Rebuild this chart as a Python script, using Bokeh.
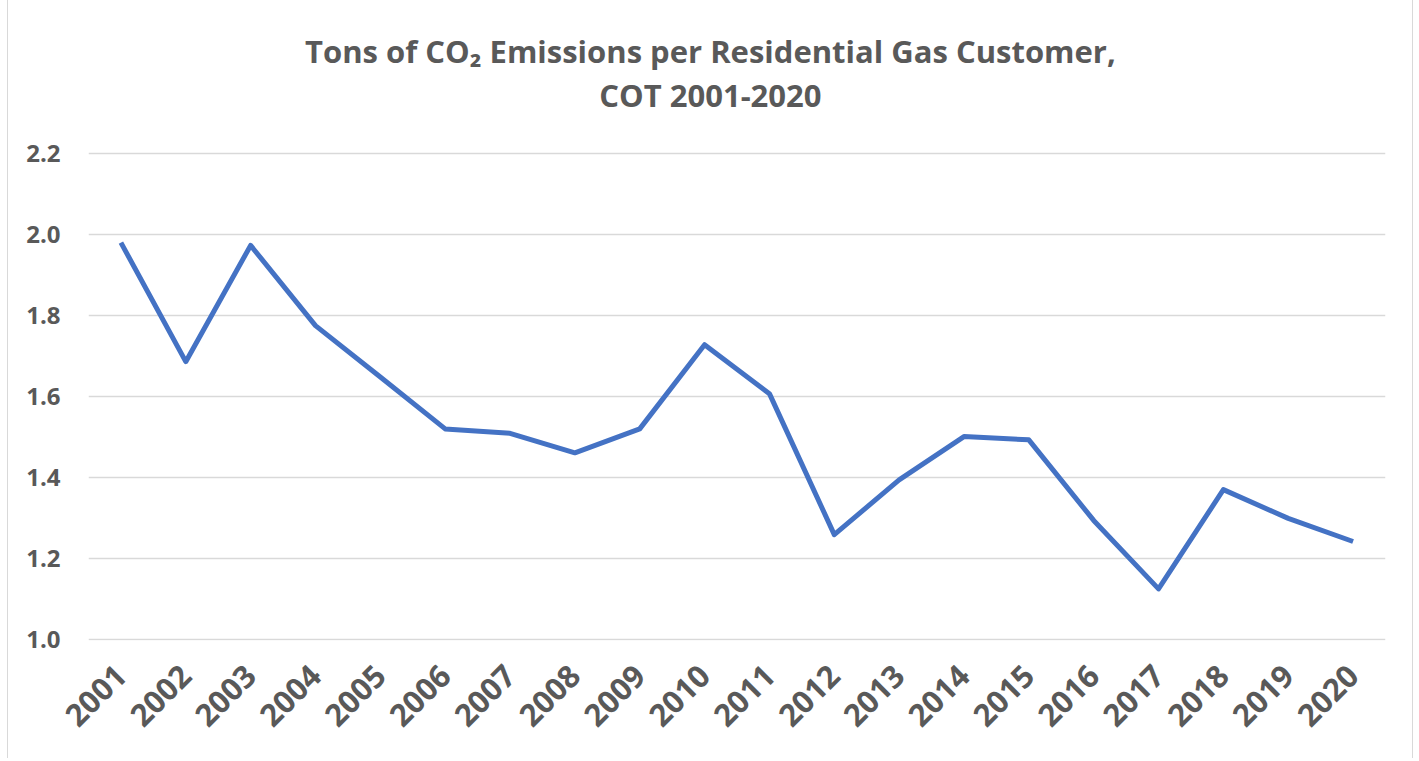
from bokeh.plotting import figure
from bokeh.models import Range1d, FactorRange, FixedTicker, Label, ColumnDataSource, NumeralTickFormatter
from bokeh.embed import file_html
from bokeh.resources import INLINE
import math

years = [str(y) for y in range(2001, 2021)]
tons_per_customer = [1.980, 1.686, 1.973, 1.775, 1.648, 1.520, 1.509, 1.461, 1.520, 1.728,
                     1.607, 1.259, 1.394, 1.501, 1.493, 1.294, 1.125, 1.370, 1.299, 1.242]
y_ticks = [1.0, 1.2, 1.4, 1.6, 1.8, 2.0, 2.2]
title_lines = ["Tons of CO\u2082 Emissions per Residential Gas Customer,", "COT 2001-2020"]

TEXT = "#595959"
FONT = "Open Sans"

# vertical scale: 405 px per unit, 1.0 line at canvas y=639, frame top at canvas 0
PX = 405.0
BASE_Y = 639
y_lo = 1.0 - 1.0 / PX
y_hi = 1.0 + BASE_Y / PX

p = figure(width=1406, height=758, output_backend="svg", toolbar_location=None,
           x_range=FactorRange(*years, range_padding=0), y_range=Range1d(y_lo, y_hi),
           min_border_left=80, min_border_right=29, min_border_top=0,
           min_border_bottom=758 - (BASE_Y + 1))
p.styles = {"margin-left": "7px", "border-left": "1px solid #d9d9d9",
            "border-right": "1px solid #d9d9d9"}
p.outline_line_color = None
p.background_fill_color = "white"
p.border_fill_color = "white"

src = ColumnDataSource(dict(year=years, val=tons_per_customer))
p.line("year", "val", source=src, line_color="#4472C4", line_width=5, line_join="round")

p.xgrid.grid_line_color = None
p.ygrid.grid_line_color = "#d9d9d9"
p.ygrid.grid_line_width = 1.5
p.ygrid.ticker = FixedTicker(ticks=y_ticks)

p.yaxis.ticker = FixedTicker(ticks=y_ticks)
p.yaxis.formatter = NumeralTickFormatter(format="0.0")
for ax in (p.xaxis[0], p.yaxis[0]):
    ax.axis_line_color = None
    ax.major_tick_line_color = None
    ax.minor_tick_line_color = None
    ax.major_label_text_color = TEXT
    ax.major_label_text_font = FONT
    ax.major_label_text_font_style = "bold"
p.yaxis.major_label_text_font_size = "24px"
p.yaxis.major_label_standoff = 22
p.xaxis.major_label_text_font_size = "31px"
p.xaxis.major_label_orientation = math.pi / 4
p.xaxis.major_label_standoff = 24

# title: two centered lines inside the top of the frame
for line_text, sy in zip(title_lines, [50, 94]):
    p.add_layout(Label(x=9.59, y=1.0 + (BASE_Y - sy) / PX, text=line_text,
                       text_align="center", text_baseline="middle",
                       text_font=FONT, text_font_style="bold", text_font_size="31px",
                       text_color=TEXT))

open("out.html", "w").write(file_html(p, INLINE))
